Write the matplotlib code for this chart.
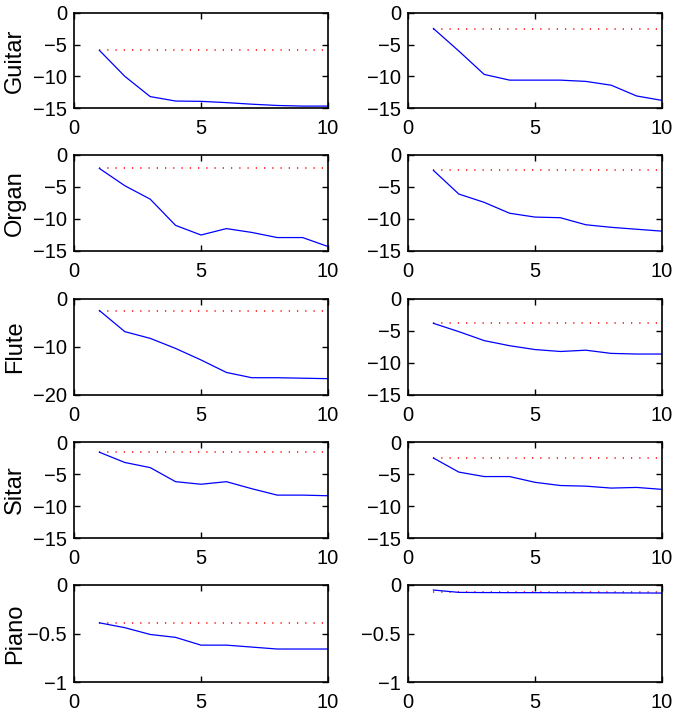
import numpy as np
import matplotlib
matplotlib.use("Agg")
import matplotlib.pyplot as plt

plt.rcParams['font.family'] = ['Liberation Sans', 'DejaVu Sans']

x = np.arange(1, 11)

names = ["Guitar", "Organ", "Flute", "Sitar", "Piano"]

# blue curves, left column then right column
guitar_l = [-5.9, -10.0, -13.2, -13.9, -13.95, -14.15, -14.4, -14.6, -14.7, -14.7]
guitar_r = [-2.45, -6.0, -9.7, -10.6, -10.6, -10.6, -10.8, -11.4, -13.1, -13.8]
organ_l = [-2.1, -4.8, -6.9, -11.0, -12.5, -11.5, -12.1, -12.9, -12.9, -14.3]
organ_r = [-2.4, -6.1, -7.4, -9.1, -9.7, -9.8, -10.9, -11.3, -11.6, -11.9]
flute_l = [-2.4, -6.8, -8.2, -10.3, -12.7, -15.3, -16.4, -16.4, -16.5, -16.6]
flute_r = [-3.8, -5.1, -6.5, -7.3, -7.9, -8.2, -8.0, -8.5, -8.6, -8.6]
sitar_l = [-1.6, -3.2, -4.0, -6.2, -6.6, -6.2, -7.3, -8.3, -8.3, -8.4]
sitar_r = [-2.5, -4.7, -5.4, -5.4, -6.3, -6.8, -6.9, -7.2, -7.1, -7.4]
piano_l = [-0.39, -0.44, -0.51, -0.54, -0.62, -0.62, -0.64, -0.66, -0.66, -0.66]
piano_r = [-0.052, -0.076, -0.078, -0.079, -0.079, -0.080, -0.080, -0.081, -0.082, -0.083]

curves = [[guitar_l, guitar_r], [organ_l, organ_r], [flute_l, flute_r],
          [sitar_l, sitar_r], [piano_l, piano_r]]

# red dotted reference levels
ref = [[-5.9, -2.45], [-2.1, -2.4], [-2.4, -3.8], [-1.6, -2.5], [-0.39, -0.069]]

# y limits and ticks per panel
ylims = [[-15, -15], [-15, -15], [-20, -15], [-15, -15], [-1, -1]]
yticks = [[[-15, -10, -5, 0], [-15, -10, -5, 0]],
          [[-15, -10, -5, 0], [-15, -10, -5, 0]],
          [[-20, -10, 0], [-15, -10, -5, 0]],
          [[-15, -10, -5, 0], [-15, -10, -5, 0]],
          [[-1, -0.5, 0], [-1, -0.5, 0]]]

W, H = 673, 722
fig = plt.figure(figsize=(W / 100, H / 100), dpi=100)

lefts = [74, 408]
width = 254
rows = [(13, 108), (155, 251), (299, 395), (442, 538), (585, 682)]

for r in range(5):
    top, bot = rows[r]
    for c in range(2):
        ax = fig.add_axes([lefts[c] / W, 1 - bot / H, width / W, (bot - top) / H])
        ax.plot(x, ref[r][c] * np.ones(len(x)), color='red', lw=1.1,
                linestyle=(0, (0.8, 4.6)))
        ax.plot(x, curves[r][c], color='blue', lw=0.9)
        ax.set_xlim(0, 10)
        ax.set_ylim(ylims[r][c], 0)
        ax.set_xticks([0, 5, 10])
        ax.set_yticks(yticks[r][c])
        ax.set_yticklabels([f"{v:g}".replace("-", "\u2212") for v in yticks[r][c]])
        ax.tick_params(direction='in', top=True, right=True, length=4, width=1,
                       labelsize=14.5)
        ax.tick_params(axis='x', pad=8)
        ax.tick_params(axis='y', pad=5)
        for s in ax.spines.values():
            s.set_linewidth(1.2)
        if c == 0:
            ax.set_ylabel(names[r], fontsize=17)
            ax.yaxis.set_label_coords(-0.19, 0.5)

fig.savefig("out.png", dpi=100)
